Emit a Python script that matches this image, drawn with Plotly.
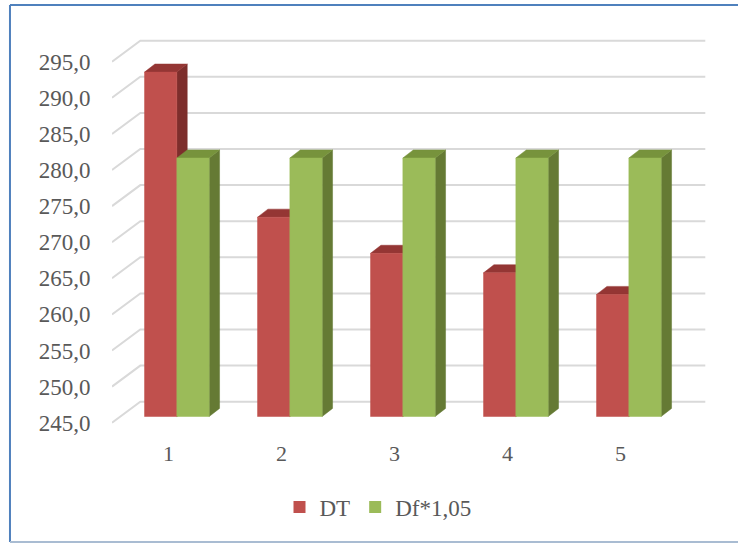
import plotly.graph_objects as go

# ---- data ----
categories = [1, 2, 3, 4, 5]
cat_labels = ["1", "2", "3", "4", "5"]
dt_values = [292.7, 272.6, 267.6, 264.9, 261.9]
df_values = [280.8, 280.8, 280.8, 280.8, 280.8]
series_names = ["DT", "Df*1,05"]
y_ticks = [245, 250, 255, 260, 265, 270, 275, 280, 285, 290, 295]
y_tick_labels = ["245,0", "250,0", "255,0", "260,0", "265,0", "270,0",
                 "275,0", "280,0", "285,0", "290,0", "295,0"]

# ---- 3D (oblique) projection parameters, in axis units ----
BASE = 245.0
DEPTH_X, DEPTH_Y = 0.2504, 2.91        # full floor depth (front -> back wall)
BAR_POS = 0.295                        # bars' front-face position within depth
BAR_DX, BAR_DY = 0.092, 1.12           # bar thickness in depth
BAR_W = 0.286
SX, SY = BAR_POS * DEPTH_X, BAR_POS * DEPTH_Y

FONT = "Liberation Serif, Times New Roman, serif"
GRID = "#D9D9D9"
TXT = "#595959"

fig = go.Figure()

# gridlines: back wall + left wall diagonals
gx, gy = [], []
for v in y_ticks:
    gx += [0.5, 0.5 + DEPTH_X, 5.5 + DEPTH_X, None]
    gy += [v, v + DEPTH_Y, v + DEPTH_Y, None]
fig.add_trace(go.Scatter(x=gx, y=gy, mode="lines", line=dict(color=GRID, width=2),
                         hoverinfo="skip", showlegend=False))


def add_series(values, side_offset, front_c, top_c, side_c):
    fx, fy, tx, ty, sx_, sy_ = [], [], [], [], [], []
    for k, v in zip(categories, values):
        c = k + SX
        x0 = c + side_offset
        x1 = x0 + BAR_W
        y0 = BASE + SY
        y1 = v + SY
        fx += [x0, x1, x1, x0, x0, None]
        fy += [y0, y0, y1, y1, y0, None]
        tx += [x0, x1, x1 + BAR_DX, x0 + BAR_DX, x0, None]
        ty += [y1, y1, y1 + BAR_DY, y1 + BAR_DY, y1, None]
        sx_ += [x1, x1 + BAR_DX, x1 + BAR_DX, x1, x1, None]
        sy_ += [y0, y0 + BAR_DY, y1 + BAR_DY, y1, y0, None]
    for xs, ys, col in ((sx_, sy_, side_c), (tx, ty, top_c), (fx, fy, front_c)):
        fig.add_trace(go.Scatter(x=xs, y=ys, mode="lines", fill="toself",
                                 fillcolor=col, line=dict(color=col, width=0.5),
                                 hoverinfo="skip", showlegend=False))


add_series(dt_values, -BAR_W, "#C0504D", "#943634", "#7D2E2C")
add_series(df_values, 0.0, "#9BBB59", "#77933C", "#657A34")

# legend entries
for name, col in zip(series_names, ["#C0504D", "#9BBB59"]):
    fig.add_trace(go.Scatter(x=[None], y=[None], mode="markers", name=name,
                             marker=dict(symbol="square", size=12, color=col)))

BORDER = "#4F81BD"
fig.update_layout(
    width=738, height=544,
    margin=dict(l=112, r=18, t=30, b=114),
    paper_bgcolor="white", plot_bgcolor="white",
    showlegend=True,
    legend=dict(orientation="h", x=0.4375, xanchor="center", y=-0.1925,
                yanchor="middle", itemwidth=30,
                font=dict(family=FONT, size=23, color=TXT)),
    xaxis=dict(range=[0.5, 5.8805], showgrid=False, zeroline=False, showline=False,
               tickmode="array", tickvals=categories, ticktext=cat_labels,
               ticks="outside", ticklen=4, tickcolor="rgba(0,0,0,0)",
               tickfont=dict(family=FONT, size=22, color=TXT)),
    yaxis=dict(range=[243.99, 299.39], showgrid=False, zeroline=False, showline=False,
               tickmode="array", tickvals=y_ticks, ticktext=y_tick_labels,
               ticks="outside", ticklen=16, tickcolor="rgba(0,0,0,0)",
               tickfont=dict(family=FONT, size=23, color=TXT)),
    shapes=[
        dict(type="line", xref="paper", yref="paper", x0=-0.1678, x1=1.3,
             y0=1.0625, y1=1.0625, line=dict(color=BORDER, width=2), layer="below"),
        dict(type="line", xref="paper", yref="paper", x0=-0.1678, x1=-0.1678,
             y0=1.0625, y1=-0.28, line=dict(color=BORDER, width=2), layer="below"),
        dict(type="line", xref="paper", yref="paper", x0=-0.1678, x1=1.3,
             y0=-0.28, y1=-0.28, line=dict(color="#A9BCD2", width=2), layer="below"),
    ],
)

fig.write_html("out.html", config={"displayModeBar": False},
               post_script="document.body.style.margin='0';document.body.style.padding='0';")
